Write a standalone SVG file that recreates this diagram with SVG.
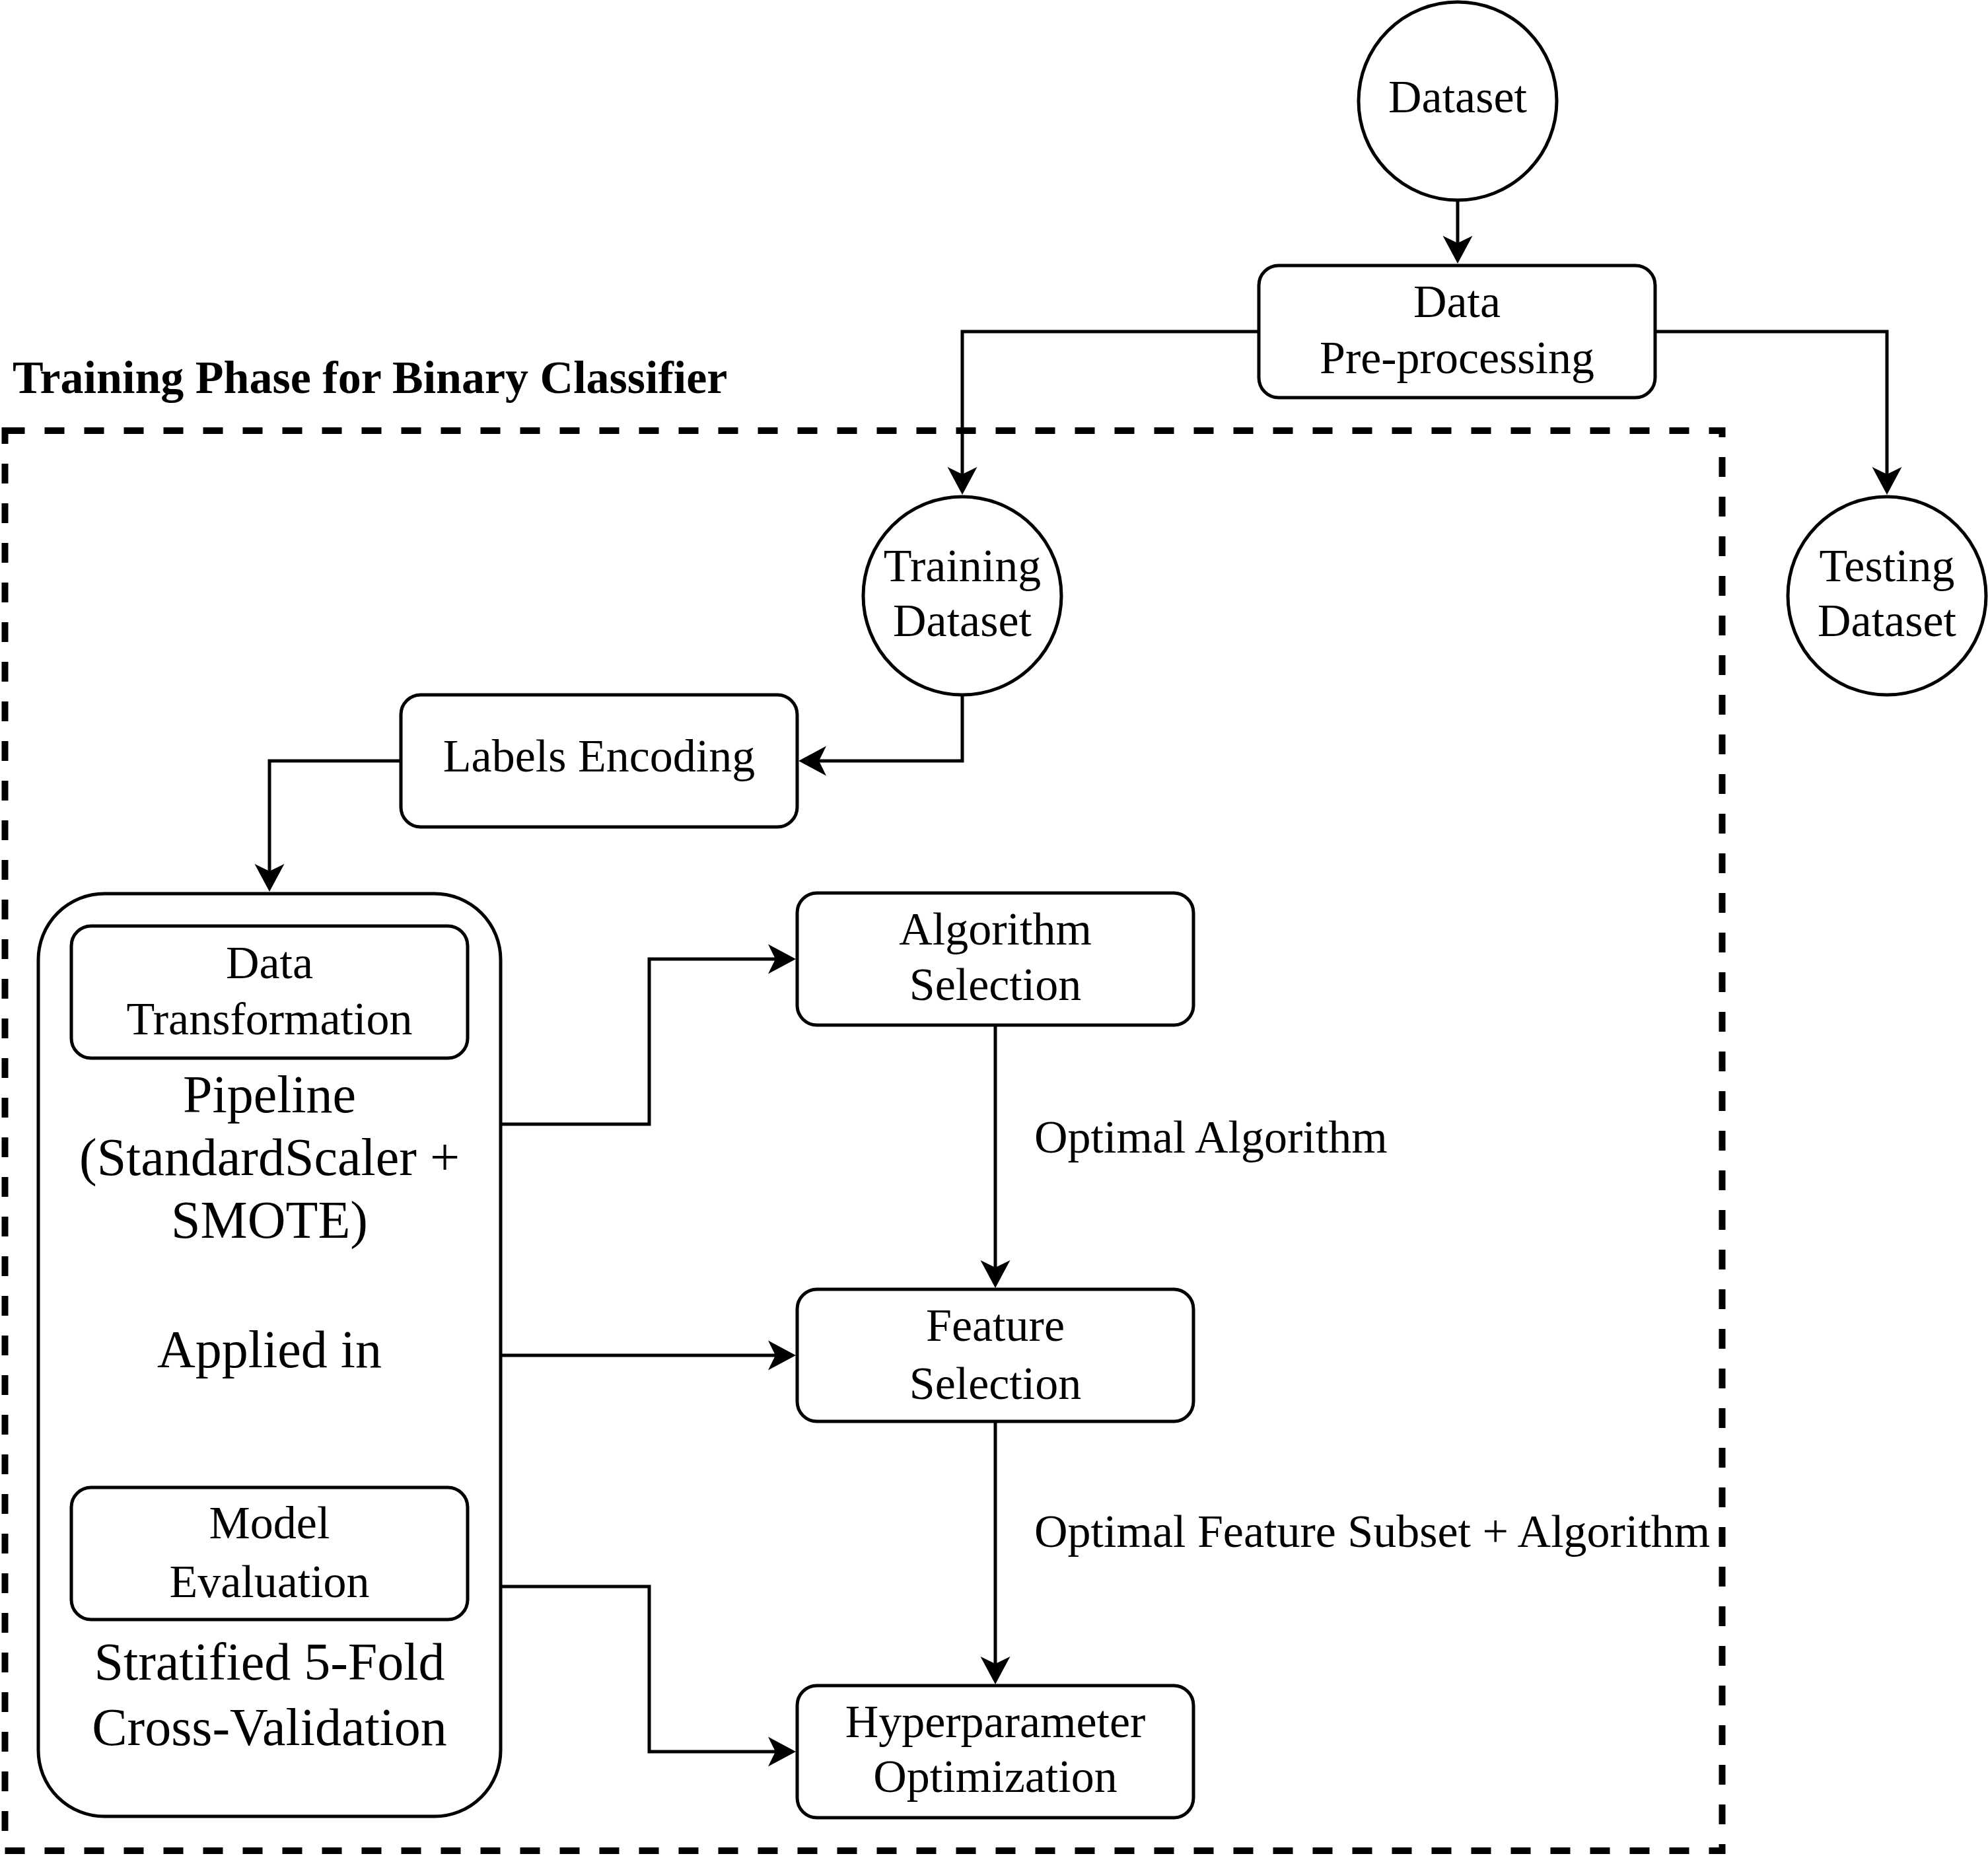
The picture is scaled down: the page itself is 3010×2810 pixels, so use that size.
<svg xmlns="http://www.w3.org/2000/svg" width="3010" height="2810" viewBox="0 0 3010 2810">
<style>
.box{fill:#fff;stroke:#000;stroke-width:5}
.edge{fill:none;stroke:#000;stroke-width:5}
.frame{fill:none;stroke:#000;stroke-width:10;stroke-dasharray:30 30}
text{font-family:"Liberation Serif","Times New Roman",serif;fill:#000;text-anchor:middle}
.t70{font-size:70px}
.t80{font-size:80px}
.lbl{font-size:70px;text-anchor:start}
.title{font-size:70px;font-weight:bold;text-anchor:start}
</style>
<defs>
<marker id="arr" markerUnits="userSpaceOnUse" markerWidth="60" markerHeight="60" viewBox="-30 -30 60 60" refX="0" refY="0" orient="auto">
<path d="M18,0 L-24,-22.5 L-13,0 L-24,22.5 Z" fill="#000"/>
</marker>
</defs>
<rect width="3010" height="2810" fill="#fff"/>
<g id="training-phase">
<rect class="frame" x="7.5" y="652" width="2600" height="2150"/>
<text class="title" x="19" y="595">Training Phase for Binary Classifier</text>
</g>
<g id="connectors">
<path class="edge" d="M2207,303 L2207,381" marker-end="url(#arr)"/>
<path class="edge" d="M1906,502 L1457,502 L1457,731" marker-end="url(#arr)"/>
<path class="edge" d="M2507,502 L2857,502 L2857,731" marker-end="url(#arr)"/>
<path class="edge" d="M1457,1053 L1457,1152 L1227,1152" marker-end="url(#arr)"/>
<path class="edge" d="M607,1152 L408,1152 L408,1332" marker-end="url(#arr)"/>
<path class="edge" d="M758,1702 L983,1702 L983,1452 L1187,1452" marker-end="url(#arr)"/>
<path class="edge" d="M758,2052 L1187,2052" marker-end="url(#arr)"/>
<path class="edge" d="M758,2402 L983,2402 L983,2652 L1187,2652" marker-end="url(#arr)"/>
<path class="edge" d="M1507,1552 L1507,1932" marker-end="url(#arr)"/>
<path class="edge" d="M1507,2152 L1507,2532" marker-end="url(#arr)"/>
<text class="lbl" x="1566" y="1745">Optimal Algorithm</text>
<text class="lbl" x="1566" y="2342">Optimal Feature Subset + Algorithm</text>
</g>
<g id="dataset">
<circle class="box" cx="2207" cy="153" r="150"/>
<text class="t70" x="2207" y="170">Dataset</text>
</g>
<g id="data-preprocessing">
<rect class="box" x="1906" y="402" width="600" height="200" rx="30"/>
<text class="t70" x="2206" y="480">Data</text>
<text class="t70" x="2206" y="565">Pre-processing</text>
</g>
<g id="training-dataset">
<circle class="box" cx="1457" cy="902" r="150"/>
<text class="t70" x="1457" y="880">Training</text>
<text class="t70" x="1457" y="963">Dataset</text>
</g>
<g id="testing-dataset">
<circle class="box" cx="2857" cy="902" r="150"/>
<text class="t70" x="2857" y="880">Testing</text>
<text class="t70" x="2857" y="963">Dataset</text>
</g>
<g id="labels-encoding">
<rect class="box" x="607" y="1052" width="600" height="200" rx="30"/>
<text class="t70" x="907" y="1168">Labels Encoding</text>
</g>
<g id="pipeline">
<rect class="box" x="58" y="1353" width="700" height="1397" rx="100"/>
<text class="t80" x="408" y="1684">Pipeline</text>
<text class="t80" x="408" y="1779">(StandardScaler +</text>
<text class="t80" x="408" y="1874">SMOTE)</text>
<text class="t80" x="408" y="2070">Applied in</text>
<text class="t80" x="408" y="2543">Stratified 5-Fold</text>
<text class="t80" x="408" y="2642">Cross-Validation</text>
</g>
<g id="data-transformation">
<rect class="box" x="108" y="1402" width="600" height="200" rx="30"/>
<text class="t70" x="408" y="1481">Data</text>
<text class="t70" x="408" y="1566">Transformation</text>
</g>
<g id="model-evaluation">
<rect class="box" x="108" y="2252" width="600" height="200" rx="30"/>
<text class="t70" x="408" y="2329">Model</text>
<text class="t70" x="408" y="2418">Evaluation</text>
</g>
<g id="algorithm-selection">
<rect class="box" x="1207" y="1352" width="600" height="200" rx="30"/>
<text class="t70" x="1507" y="1430">Algorithm</text>
<text class="t70" x="1507" y="1514">Selection</text>
</g>
<g id="feature-selection">
<rect class="box" x="1207" y="1952" width="600" height="200" rx="30"/>
<text class="t70" x="1507" y="2030">Feature</text>
<text class="t70" x="1507" y="2118">Selection</text>
</g>
<g id="hyperparameter-optimization">
<rect class="box" x="1207" y="2552" width="600" height="200" rx="30"/>
<text class="t70" x="1507" y="2630">Hyperparameter</text>
<text class="t70" x="1507" y="2713">Optimization</text>
</g>
</svg>
